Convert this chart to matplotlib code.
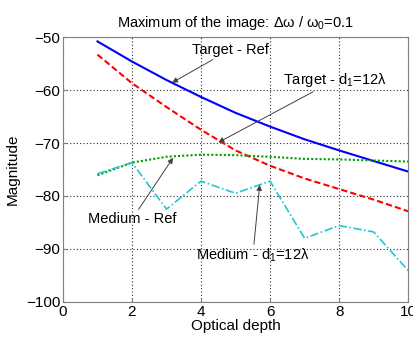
import matplotlib
matplotlib.use("Agg")
import matplotlib.pyplot as plt

plt.rcParams['font.family'] = ['Liberation Sans', 'DejaVu Sans']
plt.rcParams['mathtext.fontset'] = 'custom'
plt.rcParams['mathtext.rm'] = 'Liberation Sans'
plt.rcParams['mathtext.it'] = 'Liberation Sans'

depth = [1, 2, 3, 4, 5, 6, 7, 8, 9, 10]
target_ref = [-50.8, -54.6, -58.1, -61.3, -64.3, -66.9, -69.3, -71.4, -73.4, -75.4]
target_d1 = [-53.3, -58.7, -63.2, -67.5, -71.4, -74.3, -76.7, -78.7, -80.7, -82.9]
medium_ref = [-76.1, -73.7, -72.6, -72.2, -72.3, -72.6, -73.0, -73.1, -73.3, -73.5]
medium_d1 = [-75.8, -73.7, -82.5, -77.2, -79.5, -77.2, -88.0, -85.6, -86.8, -94.1]

fig = plt.figure(figsize=(4.14, 3.41), dpi=100)
ax = fig.add_axes([0.152, 0.115, 0.834, 0.776])

ax.plot(depth, target_ref, color='#0000ff', lw=1.5, ls='-')
ax.plot(depth, target_d1, color='#ff0000', lw=1.5, ls=(0, (3, 1.5)))
ax.plot(depth, medium_ref, color='#00a000', lw=1.5, ls=(0, (1, 1)))
ax.plot(depth, medium_d1, color='#20c8d0', lw=1.2, ls=(0, (5, 1.5, 1, 1.5)))

ax.set_xlim(0, 10)
ax.set_ylim(-100, -50)
ax.set_xticks([0, 2, 4, 6, 8, 10])
ax.set_yticks([-100, -90, -80, -70, -60, -50])
ax.grid(True, color='#303030', ls=(0, (1, 2)), lw=0.8)
for s in ax.spines.values():
    s.set_color('#808080')
ax.tick_params(labelsize=11, length=3, color='#808080', direction='in', pad=2)

ax.set_title(r'Maximum of the image: $\Delta\omega$ / $\omega_0$=0.1', fontsize=10.5, pad=7)
ax.set_xlabel('Optical depth', fontsize=11, labelpad=0)
ax.set_ylabel('Magnitude', fontsize=11, labelpad=4)

ap = dict(arrowstyle='-|>', color='#404040', lw=0.7, mutation_scale=8, shrinkA=0, shrinkB=0)
fs = 10.5
ax.annotate('Target - Ref', xy=(3.16, -58.6), xytext=(4.84, -52.4),
            ha='center', va='center', fontsize=fs, arrowprops=ap)
ax.annotate(r'Target - d$_1$=12λ', xy=(4.5, -69.9), xytext=(6.38, -58.1),
            ha='left', va='center', fontsize=fs, arrowprops=ap)
ax.annotate('Medium - Ref', xy=(3.19, -72.8), xytext=(2.0, -84.4),
            ha='center', va='center', fontsize=fs, arrowprops=ap)
ax.annotate(r'Medium - d$_1$=12λ', xy=(5.7, -77.9), xytext=(5.5, -91.3),
            ha='center', va='center', fontsize=fs, arrowprops=ap)

fig.savefig('out.png', dpi=100)
